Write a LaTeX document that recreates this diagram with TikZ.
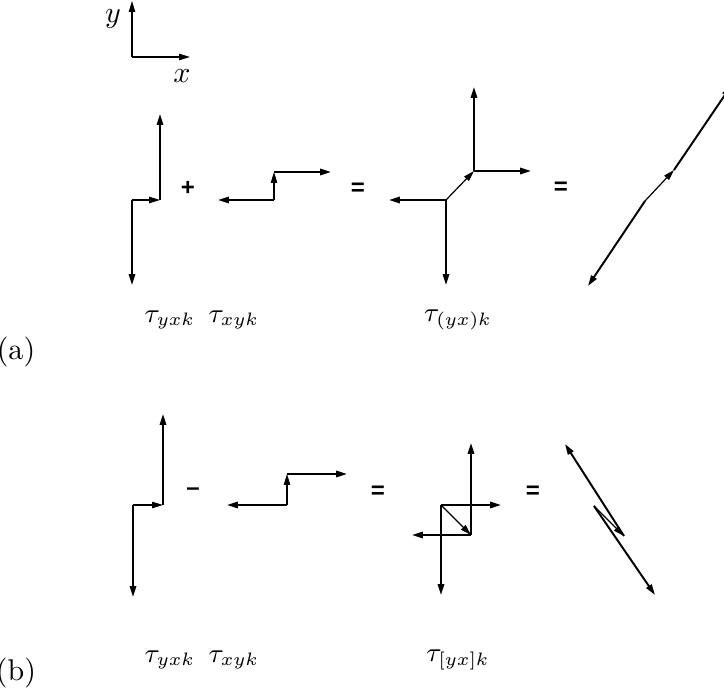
\documentclass[tikz,border=0pt]{standalone}
\usepackage{amsmath}
\usepackage{fontspec}
\newfontfamily\opfont{Liberation Sans}
\usetikzlibrary{arrows.meta}

\begin{document}
\begin{tikzpicture}[x=0.3333pt,y=-0.3333pt,
      >={Triangle[length=3.6pt,width=2.1pt]},
      vec/.style={->,line width=0.65pt},
      link/.style={->,line width=0.4pt},
      op/.style={font={\opfont\bfseries\fontsize{8}{9}\selectfont},inner sep=0pt},
      lab/.style={inner sep=0pt},
      tau/.style={inner sep=0pt,font=\small}]
  \useasboundingbox (0,0) rectangle (724,688);

  % axes
  \coordinate (o) at (132,57);
  \coordinate (oy) at (132,1);
  \coordinate (ox) at (190,57);
  \draw[link] (o) -- (oy);
  \draw[link] (o) -- (ox);
  \node[lab] (ly) at (113,19) {$y$};
  \node[lab] (lx) at (182,76) {$x$};

  % (a) tau_yxk
  \coordinate (ap) at (132,200);
  \coordinate (aq) at (160,200);
  \coordinate (apd) at (132,285);
  \coordinate (aqu) at (160,114);
  \draw[vec] (ap) -- (apd);
  \draw[link] (ap) -- (aq);
  \draw[vec] (aq) -- (aqu);
  \node[op] (plus) at (188,188) {+};

  % (a) tau_xyk
  \coordinate (ar) at (274,200);
  \coordinate (as) at (274,172);
  \coordinate (arl) at (218,200);
  \coordinate (asr) at (331,172);
  \draw[vec] (ar) -- (arl);
  \draw[link] (ar) -- (as);
  \draw[vec] (as) -- (asr);
  \node[op] (eqa1) at (358,189) {=};

  % (a) tau_(yx)k
  \coordinate (aa) at (446,200);
  \coordinate (ab) at (474,171);
  \coordinate (aal) at (389,200);
  \coordinate (aad) at (446,285);
  \coordinate (abu) at (474,87);
  \coordinate (abr) at (531,171);
  \draw[vec] (aa) -- (aal);
  \draw[vec] (aa) -- (aad);
  \draw[link] (aa) -- (ab);
  \draw[vec] (ab) -- (abu);
  \draw[vec] (ab) -- (abr);
  \node[op] (eqa2) at (561,188) {=};

  % (a) sum
  \coordinate (ca) at (645,201);
  \coordinate (cb) at (674,170);
  \coordinate (cad) at (588,286);
  \coordinate (cbu) at (731,86);
  \draw[vec] (ca) -- (cad);
  \draw[link] (ca) -- (cb);
  \draw[vec] (cb) -- (cbu);

  \node[tau] (ta1) at (170,320) {$\tau_{yxk}$};
  \node[tau] (ta2) at (234,320) {$\tau_{xyk}$};
  \node[tau] (ta3) at (458,320) {$\tau_{(yx)k}$};
  \node[lab] (pa) at (16,352) {(a)};

  % (b) tau_yxk
  \coordinate (bp) at (133,505);
  \coordinate (bq) at (163,505);
  \coordinate (bpd) at (133,597);
  \coordinate (bqu) at (163,414);
  \draw[vec] (bp) -- (bpd);
  \draw[link] (bp) -- (bq);
  \draw[vec] (bq) -- (bqu);
  \node[op] (minus) at (193,492) {\textendash};

  % (b) tau_xyk
  \coordinate (br) at (287,505);
  \coordinate (bs) at (287,474);
  \coordinate (brl) at (227,505);
  \coordinate (bsr) at (347,474);
  \draw[vec] (br) -- (brl);
  \draw[link] (br) -- (bs);
  \draw[vec] (bs) -- (bsr);
  \node[op] (eqb1) at (378,492) {=};

  % (b) tau_[yx]k
  \coordinate (ba) at (441,505);
  \coordinate (bb) at (471,535);
  \coordinate (bad) at (441,595);
  \coordinate (bar) at (501,505);
  \coordinate (bbu) at (471,443);
  \coordinate (bbl) at (412,535);
  \draw[vec] (ba) -- (bad);
  \draw[vec] (ba) -- (bar);
  \draw[link] (ba) -- (bb);
  \draw[vec] (bb) -- (bbu);
  \draw[vec] (bb) -- (bbl);
  \node[op] (eqb2) at (533,492) {=};

  % (b) difference
  \coordinate (da) at (594,506);
  \coordinate (db) at (624,536);
  \coordinate (dad) at (655,595);
  \coordinate (dbu) at (565,444);
  \draw[vec] (da) -- (dad);
  \draw[link] (da) -- (db);
  \draw[vec] (db) -- (dbu);

  \node[tau] (tb1) at (170,660) {$\tau_{yxk}$};
  \node[tau] (tb2) at (234,660) {$\tau_{xyk}$};
  \node[tau] (tb3) at (458,660) {$\tau_{[yx]k}$};
  \node[lab] (pb) at (16,673) {(b)};
\end{tikzpicture}
\end{document}
